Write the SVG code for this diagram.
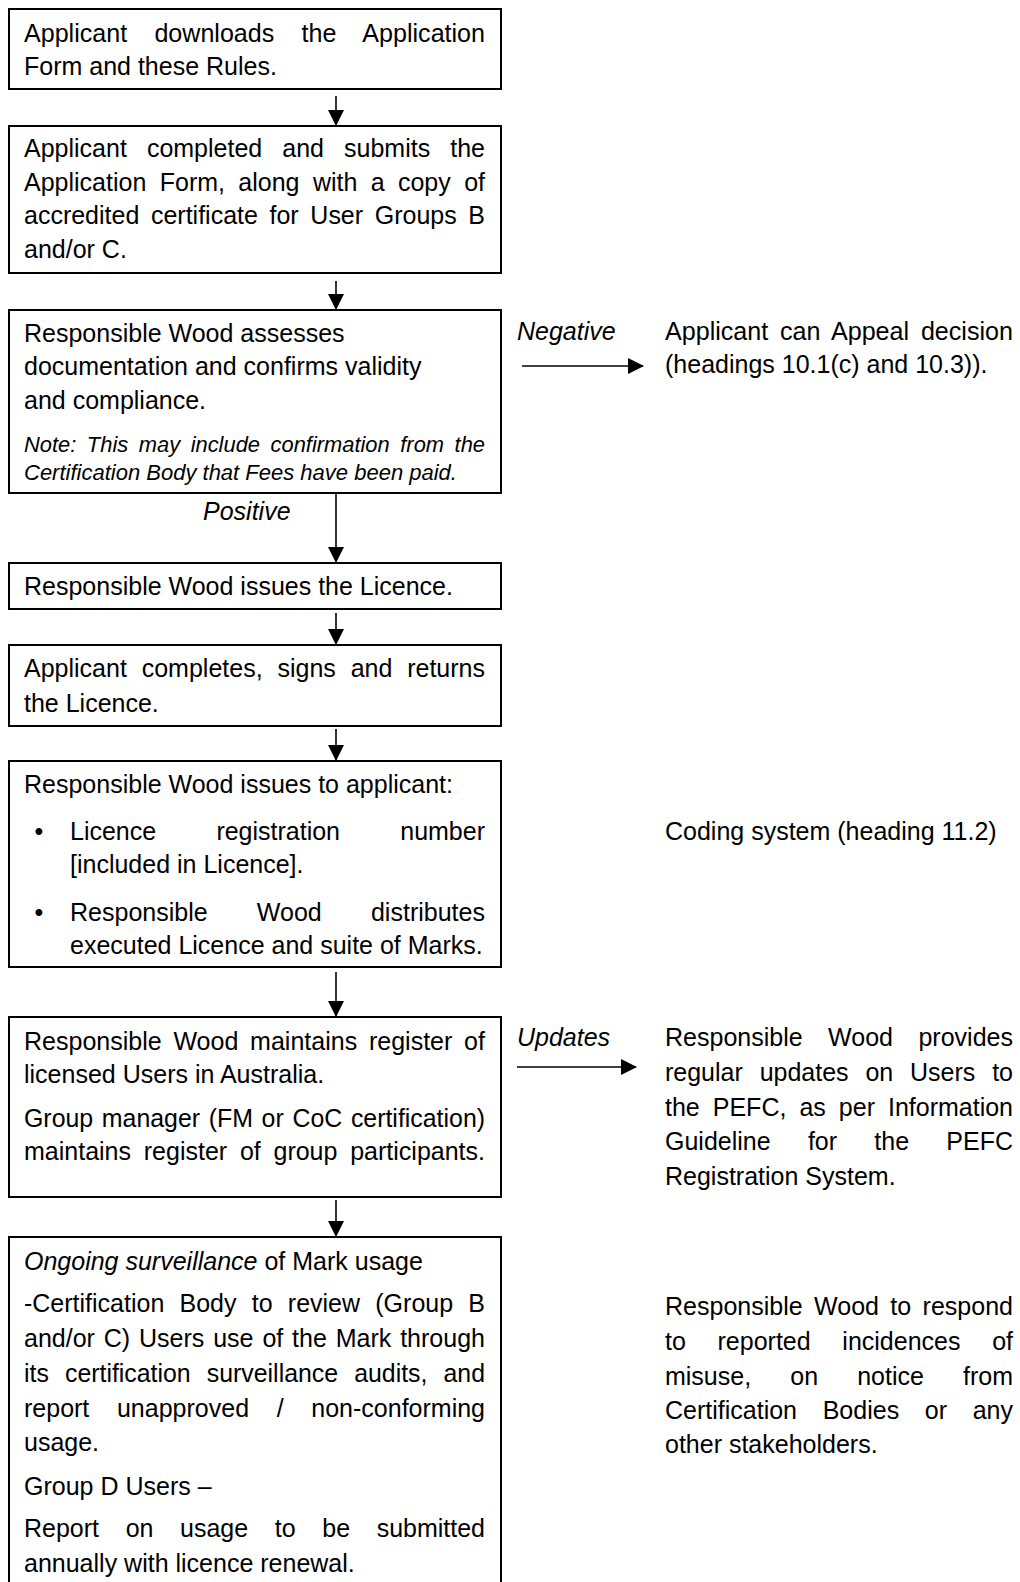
<svg xmlns="http://www.w3.org/2000/svg" width="1020" height="1582" viewBox="0 0 1020 1582">
<style>
  .box{fill:#fff;stroke:#000;stroke-width:2}
  text{font-family:"Liberation Sans",Arial,sans-serif;font-size:25px;fill:#000}
  .it{font-style:italic}
  .note{font-style:italic;font-size:22px}
  .c{stroke:#000;stroke-width:1.6;fill:none}
</style>
<defs>
  <marker id="ah" markerUnits="userSpaceOnUse" markerWidth="16" markerHeight="16" viewBox="0 0 16 16" refX="15" refY="8" orient="auto">
    <path d="M0,0 L16,8 L0,16 Z" fill="#000"/>
  </marker>
</defs>
<g id="connectors">
  <line class="c" x1="336" y1="96" x2="336" y2="125" marker-end="url(#ah)"/>
  <line class="c" x1="336" y1="281" x2="336" y2="309" marker-end="url(#ah)"/>
  <line class="c" x1="336" y1="493" x2="336" y2="562" marker-end="url(#ah)"/>
  <line class="c" x1="336" y1="613" x2="336" y2="644" marker-end="url(#ah)"/>
  <line class="c" x1="336" y1="729" x2="336" y2="760" marker-end="url(#ah)"/>
  <line class="c" x1="336" y1="972" x2="336" y2="1016" marker-end="url(#ah)"/>
  <line class="c" x1="336" y1="1200" x2="336" y2="1236" marker-end="url(#ah)"/>
  <line class="c" x1="522" y1="366" x2="643" y2="366" marker-end="url(#ah)"/>
  <line class="c" x1="517" y1="1067" x2="636" y2="1067" marker-end="url(#ah)"/>
  <text class="it" x="517" y="340">Negative</text>
  <text class="it" x="203" y="520">Positive</text>
  <text class="it" x="517" y="1046">Updates</text>
</g>
<g id="n1">
  <rect class="box" x="9" y="9" width="492" height="80"/>
  <text x="24" y="42" style="word-spacing:20.3px" textLength="461" lengthAdjust="spacingAndGlyphs">Applicant downloads the Application</text>
  <text x="24" y="75">Form and these Rules.</text>
</g>
<g id="n2">
  <rect class="box" x="9" y="126" width="492" height="147"/>
  <text x="24" y="157" style="word-spacing:13.1px" textLength="461" lengthAdjust="spacingAndGlyphs">Applicant completed and submits the</text>
  <text x="24" y="191" style="word-spacing:6.4px" textLength="461" lengthAdjust="spacingAndGlyphs">Application Form, along with a copy of</text>
  <text x="24" y="224" style="word-spacing:4.7px" textLength="461" lengthAdjust="spacingAndGlyphs">accredited certificate for User Groups B</text>
  <text x="24" y="258">and/or C.</text>
</g>
<g id="n3">
  <rect class="box" x="9" y="310" width="492" height="183"/>
  <text x="24" y="342">Responsible Wood assesses</text>
  <text x="24" y="375">documentation and confirms validity</text>
  <text x="24" y="409">and compliance.</text>
  <text class="note" x="24" y="452" style="word-spacing:4.5px" textLength="461" lengthAdjust="spacingAndGlyphs">Note: This may include confirmation from the</text>
  <text class="note" x="24" y="480">Certification Body that Fees have been paid.</text>
</g>
<g id="n3b">
  <text x="665" y="340" style="word-spacing:4.8px" textLength="348" lengthAdjust="spacingAndGlyphs">Applicant can Appeal decision</text>
  <text x="665" y="373">(headings 10.1(c) and 10.3)).</text>
</g>
<g id="n4">
  <rect class="box" x="9" y="563" width="492" height="46"/>
  <text x="24" y="595">Responsible Wood issues the Licence.</text>
</g>
<g id="n5">
  <rect class="box" x="9" y="645" width="492" height="81"/>
  <text x="24" y="677" style="word-spacing:7.9px" textLength="461" lengthAdjust="spacingAndGlyphs">Applicant completes, signs and returns</text>
  <text x="24" y="712">the Licence.</text>
</g>
<g id="n6">
  <rect class="box" x="9" y="761" width="492" height="206"/>
  <text x="24" y="793">Responsible Wood issues to applicant:</text>
  <text x="39" y="840" text-anchor="middle">•</text>
  <text x="70" y="840" style="word-spacing:53.3px" textLength="415" lengthAdjust="spacingAndGlyphs">Licence registration number</text>
  <text x="70" y="873">[included in Licence].</text>
  <text x="39" y="921" text-anchor="middle">•</text>
  <text x="70" y="921" style="word-spacing:42.2px" textLength="415" lengthAdjust="spacingAndGlyphs">Responsible Wood distributes</text>
  <text x="70" y="954">executed Licence and suite of Marks.</text>
</g>
<g id="n6b">
  <text x="665" y="840">Coding system (heading 11.2)</text>
</g>
<g id="n7">
  <rect class="box" x="9" y="1017" width="492" height="180"/>
  <text x="24" y="1050" style="word-spacing:4.8px" textLength="461" lengthAdjust="spacingAndGlyphs">Responsible Wood maintains register of</text>
  <text x="24" y="1083">licensed Users in Australia.</text>
  <text x="24" y="1127" style="word-spacing:1.8px" textLength="461" lengthAdjust="spacingAndGlyphs">Group manager (FM or CoC certification)</text>
  <text x="24" y="1160" style="word-spacing:5.8px" textLength="461" lengthAdjust="spacingAndGlyphs">maintains register of group participants.</text>
</g>
<g id="n7b">
  <text x="665" y="1046" style="word-spacing:18.4px" textLength="348" lengthAdjust="spacingAndGlyphs">Responsible Wood provides</text>
  <text x="665" y="1081" style="word-spacing:9.9px" textLength="348" lengthAdjust="spacingAndGlyphs">regular updates on Users to</text>
  <text x="665" y="1116" style="word-spacing:6.1px" textLength="348" lengthAdjust="spacingAndGlyphs">the PEFC, as per Information</text>
  <text x="665" y="1150" style="word-spacing:30.3px" textLength="348" lengthAdjust="spacingAndGlyphs">Guideline for the PEFC</text>
  <text x="665" y="1185">Registration System.</text>
</g>
<g id="n8">
  <rect class="box" x="9" y="1237" width="492" height="360"/>
  <text x="24" y="1270"><tspan class="it">Ongoing surveillance</tspan> of Mark usage</text>
  <text x="24" y="1312" style="word-spacing:8.3px" textLength="461" lengthAdjust="spacingAndGlyphs">-Certification Body to review (Group B</text>
  <text x="24" y="1347" style="word-spacing:1.9px" textLength="461" lengthAdjust="spacingAndGlyphs">and/or C) Users use of the Mark through</text>
  <text x="24" y="1382" style="word-spacing:9.25px" textLength="461" lengthAdjust="spacingAndGlyphs">its certification surveillance audits, and</text>
  <text x="24" y="1417" style="word-spacing:20.7px" textLength="461" lengthAdjust="spacingAndGlyphs">report unapproved / non-conforming</text>
  <text x="24" y="1451">usage.</text>
  <text x="24" y="1495">Group D Users –</text>
  <text x="24" y="1537" style="word-spacing:19.7px" textLength="461" lengthAdjust="spacingAndGlyphs">Report on usage to be submitted</text>
  <text x="24" y="1572">annually with licence renewal.</text>
</g>
<g id="n8b">
  <text x="665" y="1315" style="word-spacing:4.4px" textLength="348" lengthAdjust="spacingAndGlyphs">Responsible Wood to respond</text>
  <text x="665" y="1350" style="word-spacing:24.75px" textLength="348" lengthAdjust="spacingAndGlyphs">to reported incidences of</text>
  <text x="665" y="1385" style="word-spacing:32.2px" textLength="348" lengthAdjust="spacingAndGlyphs">misuse, on notice from</text>
  <text x="665" y="1419" style="word-spacing:18.7px" textLength="348" lengthAdjust="spacingAndGlyphs">Certification Bodies or any</text>
  <text x="665" y="1453">other stakeholders.</text>
</g>
</svg>
